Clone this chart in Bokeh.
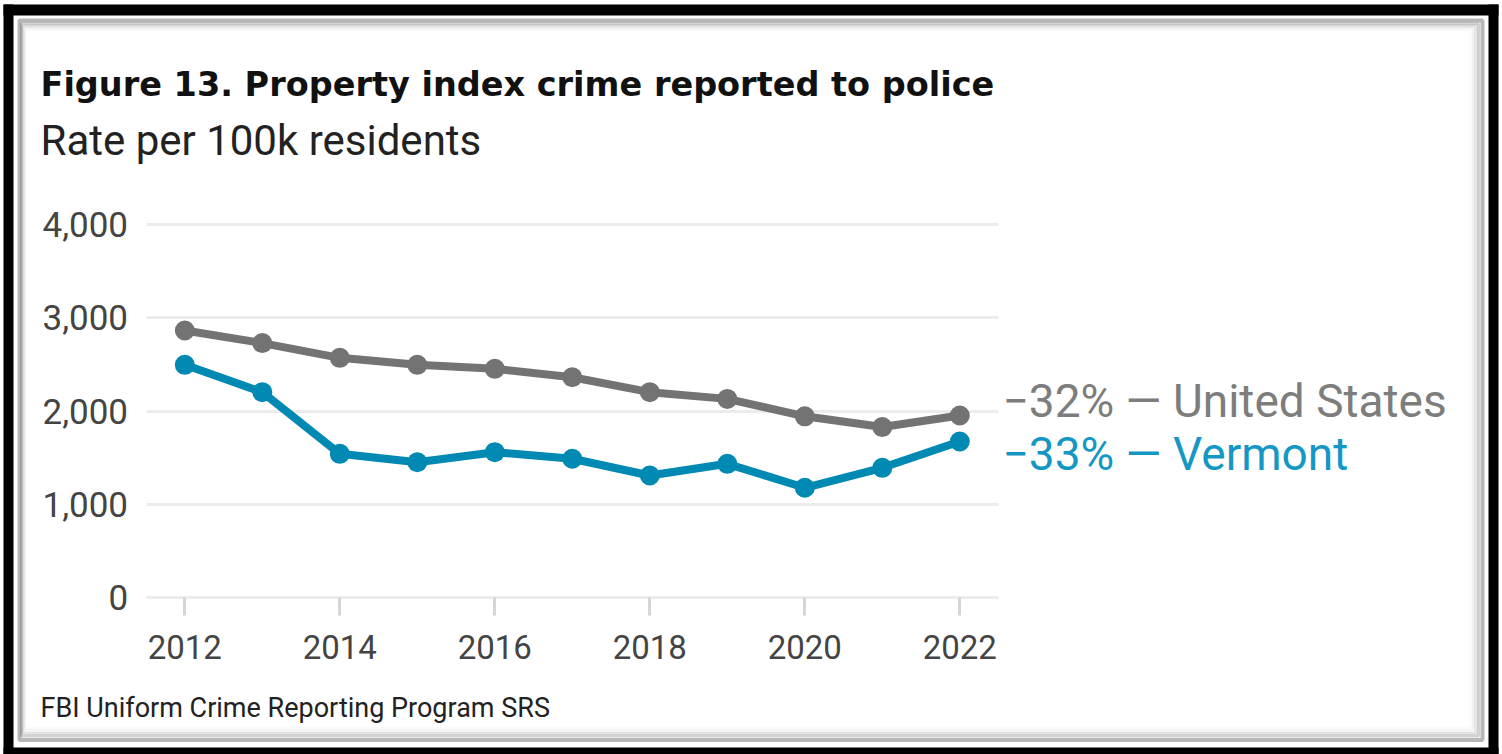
from bokeh.plotting import figure
from bokeh.models import (Range1d, FixedTicker, NumeralTickFormatter, Label,
                          BoxAnnotation, LinearAxis, Grid)
from bokeh.embed import file_html
from bokeh.resources import INLINE

# ---- data ----
years = [2012, 2013, 2014, 2015, 2016, 2017, 2018, 2019, 2020, 2021, 2022]
us_rate = [2865, 2730, 2572, 2497, 2454, 2364, 2204, 2132, 1945, 1830, 1954]
vt_rate = [2497, 2204, 1543, 1453, 1561, 1490, 1311, 1436, 1179, 1393, 1675]
x_ticks = [2012, 2014, 2016, 2018, 2020, 2022]
y_ticks = [0, 1000, 2000, 3000, 4000]
series_names = ["United States", "Vermont"]
series_changes = ["\u221232%", "\u221233%"]

title_text = "Figure 13. Property index crime reported to police"
subtitle_text = "Rate per 100k residents"
source_text = "FBI Uniform Crime Reporting Program SRS"

GRAY = "#737373"
TEAL = "#0089b2"
FONT = "Roboto"

W, H = 1502, 754
# pixel calibration of the plotting area
PX0, PX_YEAR = 184.3, 77.5      # x pixel of first year, px per year
PY0, PX_UNIT = 597.3, 0.0933    # y pixel of zero, px per unit

x0 = years[0] - PX0 / PX_YEAR
x1 = x0 + W / PX_YEAR
y1 = PY0 / PX_UNIT
y0 = -(H - PY0) / PX_UNIT
xb = (years[0] - 0.5, years[-1] + 0.5)

p = figure(width=W, height=H, output_backend="svg", toolbar_location=None,
           x_range=Range1d(x0, x1), y_range=Range1d(y0, y1),
           x_axis_location=None, y_axis_location=None, min_border=0)
p.center = []
p.outline_line_color = None
p.background_fill_color = "white"
p.border_fill_color = "white"

grid = Grid(dimension=1, ticker=FixedTicker(ticks=y_ticks), cross_bounds=xb,
            grid_line_color="#ececec", grid_line_width=3)
p.add_layout(grid)

xa = LinearAxis(fixed_location=0, bounds=xb, ticker=FixedTicker(ticks=x_ticks))
xa.minor_tick_line_color = None
xa.major_tick_in = 0
xa.major_tick_out = 18
xa.major_tick_line_color = "#d6d6d6"
xa.major_tick_line_width = 3
xa.axis_line_color = "#ececec"
xa.axis_line_width = 3
xa.major_label_text_font = FONT
xa.major_label_text_font_size = "33px"
xa.major_label_text_color = "#444444"
xa.major_label_standoff = 19
p.add_layout(xa, "below")

ya = LinearAxis(fixed_location=xb[0], ticker=FixedTicker(ticks=y_ticks),
                formatter=NumeralTickFormatter(format="0,0"))
ya.minor_tick_line_color = None
ya.major_tick_in = 0
ya.major_tick_out = 0
ya.axis_line_color = None
ya.major_label_text_font = FONT
ya.major_label_text_font_size = "35px"
ya.major_label_text_color = "#444444"
ya.major_label_standoff = 18
p.add_layout(ya, "left")

p.line(years, us_rate, line_width=8, line_color=GRAY)
p.scatter(years, us_rate, size=20, fill_color=GRAY, line_color=None)
p.line(years, vt_rate, line_width=8, line_color=TEAL)
p.scatter(years, vt_rate, size=20, fill_color=TEAL, line_color=None)


def lab(text, cx, cy, size, color, style="normal", font=FONT):
    p.add_layout(Label(x=cx, y=H - cy, x_units="screen", y_units="screen",
                       text=text, text_font=font, text_font_size=size,
                       text_color=color, text_font_style=style,
                       text_baseline="alphabetic", text_align="left"))


lab(title_text, 40, 84, "33.5px", "#111111", "bold", "DejaVu Sans")
lab(subtitle_text, 40, 140, "42px", "#222222")
lab(source_text, 40, 707, "27px", "#222222")
lab(f"{series_changes[0]} \u2014 {series_names[0]}", 1002, 400, "46px", "#7d7d7d")
lab(f"{series_changes[1]} \u2014 {series_names[1]}", 1002, 453, "46px", "#1497c5")


def box(l, r, t, b, **kw):
    p.add_layout(BoxAnnotation(left=l, right=r, top=H - t, bottom=H - b,
                               left_units="screen", right_units="screen",
                               top_units="screen", bottom_units="screen",
                               **kw))


# decorative frame (canvas px)
for (l, r, t, b) in [(3, 1498, 4, 15), (3, 13, 4, 754), (1488, 1498, 4, 754), (3, 1498, 747, 754)]:
    box(l, r, t, b, fill_color="black", fill_alpha=1, line_color=None)
for off, col in [(11.5, "#f0f0f0"), (9, "#d8d8d8"), (6.5, "#aaaaaa"), (4, "#6a6a6a")]:
    box(19 + off * 0.5, 1482 - off, 20 + off * 0.8, 739.5 - off, fill_color=None,
        fill_alpha=0, line_color=col, line_width=3)
box(19, 1482, 20, 739.5, fill_color=None, fill_alpha=0, line_color="#111111", line_width=4)

open("out.html", "w").write(file_html(p, INLINE))
